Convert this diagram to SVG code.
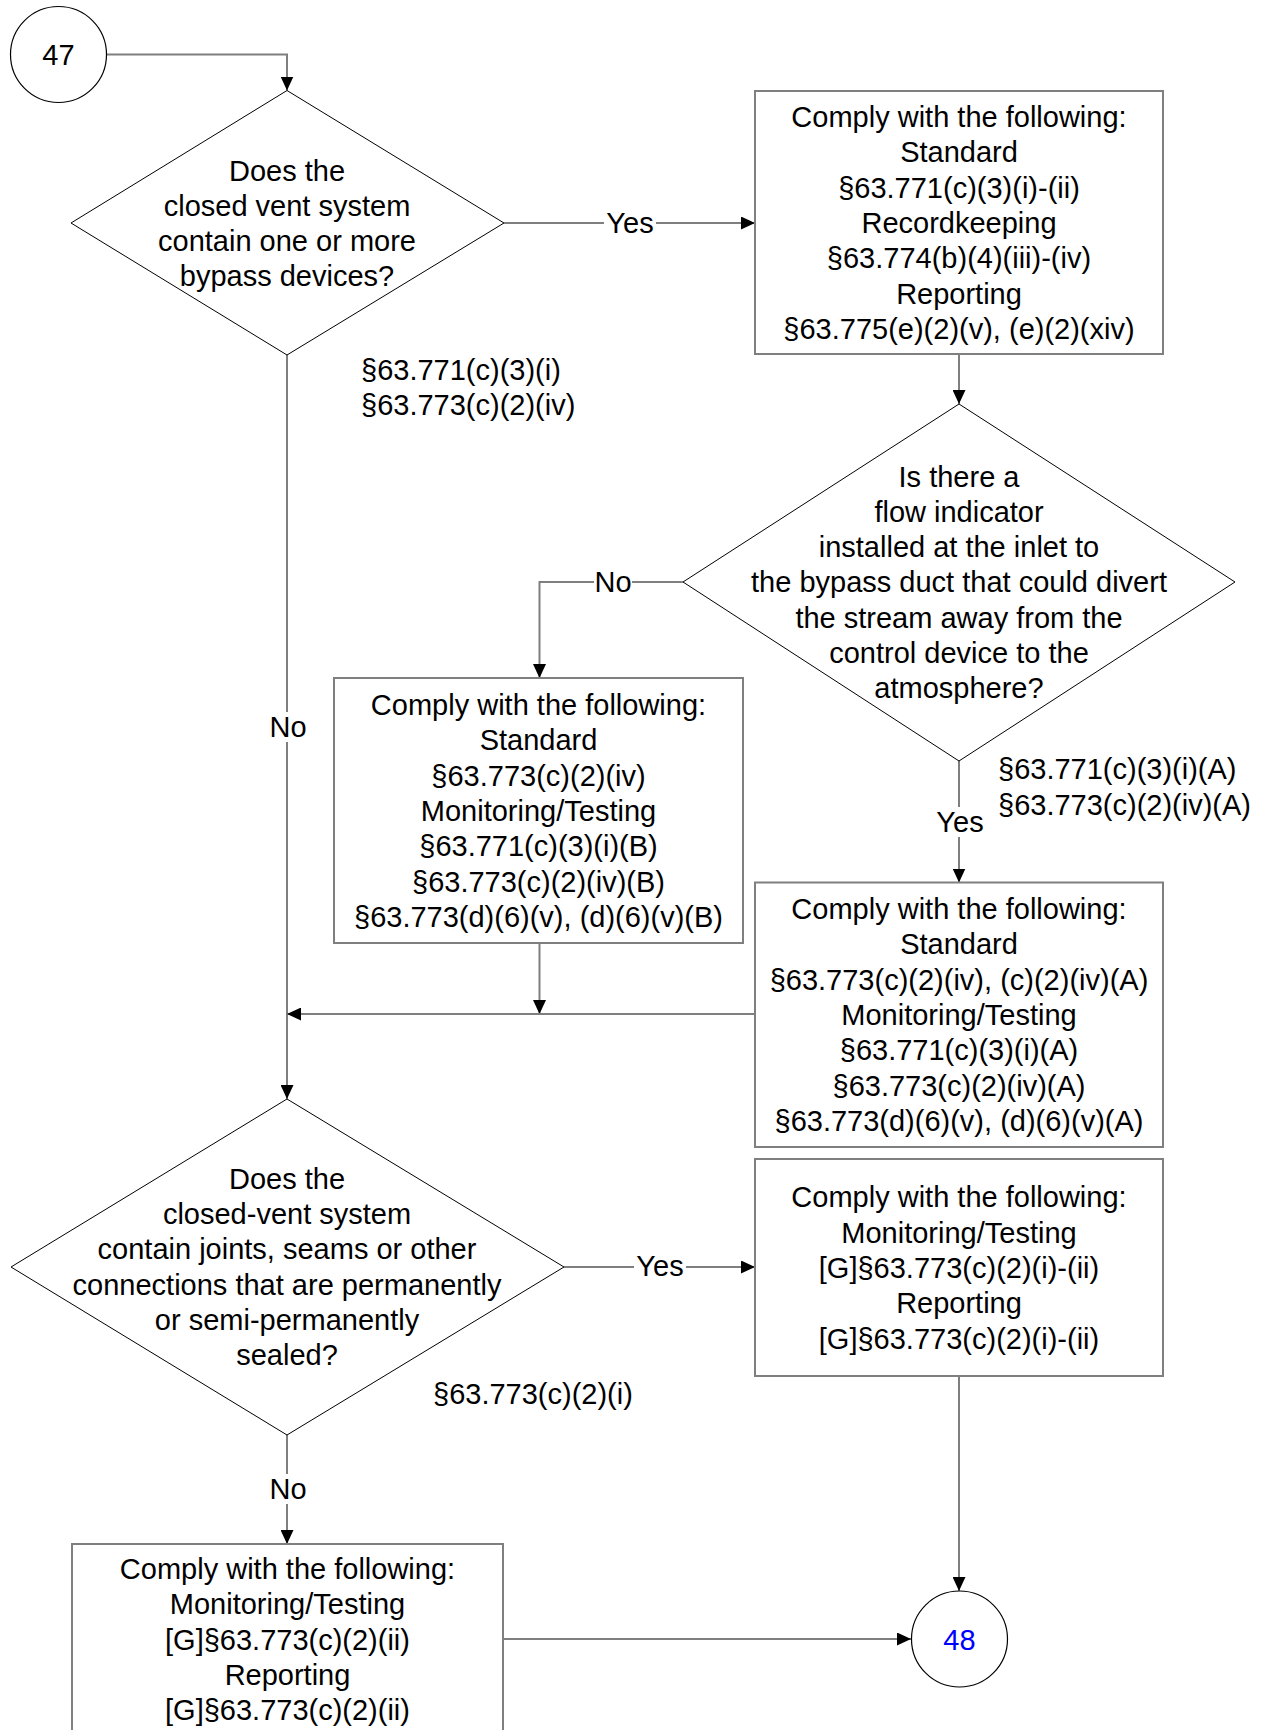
<svg xmlns="http://www.w3.org/2000/svg" width="1262" height="1730" viewBox="0 0 1262 1730">
<style>
text{font-family:"Liberation Sans",Arial,sans-serif;font-size:29px;fill:#000;text-anchor:middle}
.l{text-anchor:start}
.box{fill:#fff;stroke:#7f7f7f;stroke-width:2}
.dia{fill:#fff;stroke:#000;stroke-width:1}
.circ{fill:#fff;stroke:#000;stroke-width:1.2}
.con{fill:none;stroke:#7f7f7f;stroke-width:2;marker-end:url(#ah)}
.bg{fill:#fff}
</style>
<defs>
<marker id="ah" markerUnits="userSpaceOnUse" markerWidth="14" markerHeight="13" refX="14" refY="6.5" orient="auto">
<path d="M0,0 L14,6.5 L0,13 Z" fill="#000"/>
</marker>
</defs>
<rect width="1262" height="1730" fill="#fff"/>

<g id="connectors">
<path class="con" d="M106.5,54.5 H287 V90.5"/>
<path class="con" d="M504,223 H755"/>
<path class="con" d="M959,354 V404"/>
<path class="con" d="M683,582 H539.5 V678"/>
<path class="con" d="M959,761 V882.5"/>
<path class="con" d="M287,355 V1099"/>
<path class="con" d="M539.5,943 V1014"/>
<path class="con" d="M755,1014 H287"/>
<path class="con" d="M564,1267 H755"/>
<path class="con" d="M287,1435 V1544"/>
<path class="con" d="M959,1376 V1591"/>
<path class="con" d="M503,1639 H911"/>
<rect class="bg" x="604" y="208" width="52" height="30"/>
<text x="630" y="233.4">Yes</text>
<rect class="bg" x="270" y="712" width="36" height="30"/>
<text x="288" y="737.4">No</text>
<rect class="bg" x="594" y="567" width="38" height="30"/>
<text x="613" y="592.4">No</text>
<rect class="bg" x="934" y="807" width="52" height="30"/>
<text x="960" y="832.4">Yes</text>
<rect class="bg" x="634" y="1251" width="52" height="30"/>
<text x="660" y="1276.4">Yes</text>
<rect class="bg" x="270" y="1474" width="36" height="30"/>
<text x="288" y="1499.4">No</text>
</g>

<g id="n47">
<circle class="circ" cx="58.5" cy="54.5" r="48"/>
<text x="58.5" y="65">47</text>
</g>

<g id="d1">
<polygon class="dia" points="287,90.5 504,223 287,355 71,223"/>
<text x="287" y="180.5">Does the</text>
<text x="287" y="215.8">closed vent system</text>
<text x="287" y="251.1">contain one or more</text>
<text x="287" y="286.4">bypass devices?</text>
</g>

<g id="ref1">
<text class="l" x="361" y="380">§63.771(c)(3)(i)</text>
<text class="l" x="361" y="415.3">§63.773(c)(2)(iv)</text>
</g>

<g id="b1">
<rect class="box" x="755" y="91" width="408" height="263"/>
<text x="959" y="127">Comply with the following:</text>
<text x="959" y="162.3">Standard</text>
<text x="959" y="197.6">§63.771(c)(3)(i)-(ii)</text>
<text x="959" y="232.9">Recordkeeping</text>
<text x="959" y="268.2">§63.774(b)(4)(iii)-(iv)</text>
<text x="959" y="303.5">Reporting</text>
<text x="959" y="338.8">§63.775(e)(2)(v), (e)(2)(xiv)</text>
</g>

<g id="d2">
<polygon class="dia" points="959,404 1235,582 959,761 683,582"/>
<text x="959" y="486.5">Is there a</text>
<text x="959" y="521.8">flow indicator</text>
<text x="959" y="557.1">installed at the inlet to</text>
<text x="959" y="592.4">the bypass duct that could divert</text>
<text x="959" y="627.7">the stream away from the</text>
<text x="959" y="663">control device to the</text>
<text x="959" y="698.3">atmosphere?</text>
</g>

<g id="ref2">
<text class="l" x="998" y="778.5">§63.771(c)(3)(i)(A)</text>
<text class="l" x="998" y="814.5">§63.773(c)(2)(iv)(A)</text>
</g>

<g id="b2">
<rect class="box" x="334" y="678" width="409" height="265"/>
<text x="538.5" y="715">Comply with the following:</text>
<text x="538.5" y="750.3">Standard</text>
<text x="538.5" y="785.6">§63.773(c)(2)(iv)</text>
<text x="538.5" y="820.9">Monitoring/Testing</text>
<text x="538.5" y="856.2">§63.771(c)(3)(i)(B)</text>
<text x="538.5" y="891.5">§63.773(c)(2)(iv)(B)</text>
<text x="538.5" y="926.8">§63.773(d)(6)(v), (d)(6)(v)(B)</text>
</g>

<g id="b3">
<rect class="box" x="755" y="882.5" width="408" height="264.5"/>
<text x="959" y="919">Comply with the following:</text>
<text x="959" y="954.3">Standard</text>
<text x="959" y="989.6">§63.773(c)(2)(iv), (c)(2)(iv)(A)</text>
<text x="959" y="1024.9">Monitoring/Testing</text>
<text x="959" y="1060.2">§63.771(c)(3)(i)(A)</text>
<text x="959" y="1095.5">§63.773(c)(2)(iv)(A)</text>
<text x="959" y="1130.8">§63.773(d)(6)(v), (d)(6)(v)(A)</text>
</g>

<g id="d3">
<polygon class="dia" points="287,1099 564,1267 287,1435 11,1267"/>
<text x="287" y="1188.7">Does the</text>
<text x="287" y="1224">closed-vent system</text>
<text x="287" y="1259.3">contain joints, seams or other</text>
<text x="287" y="1294.6">connections that are permanently</text>
<text x="287" y="1329.9">or semi-permanently</text>
<text x="287" y="1365.2">sealed?</text>
</g>

<g id="ref3">
<text class="l" x="433" y="1403.5">§63.773(c)(2)(i)</text>
</g>

<g id="b4">
<rect class="box" x="755" y="1159" width="408" height="217"/>
<text x="959" y="1207.3">Comply with the following:</text>
<text x="959" y="1242.6">Monitoring/Testing</text>
<text x="959" y="1277.9">[G]§63.773(c)(2)(i)-(ii)</text>
<text x="959" y="1313.2">Reporting</text>
<text x="959" y="1348.5">[G]§63.773(c)(2)(i)-(ii)</text>
</g>

<g id="b5">
<rect class="box" x="72" y="1544" width="431" height="220"/>
<text x="287.5" y="1579">Comply with the following:</text>
<text x="287.5" y="1614.3">Monitoring/Testing</text>
<text x="287.5" y="1649.6">[G]§63.773(c)(2)(ii)</text>
<text x="287.5" y="1684.9">Reporting</text>
<text x="287.5" y="1720.2">[G]§63.773(c)(2)(ii)</text>
</g>

<g id="n48">
<circle class="circ" cx="959.5" cy="1639" r="48"/>
<text x="959.5" y="1649.5" style="fill:#0000ff">48</text>
</g>
</svg>
